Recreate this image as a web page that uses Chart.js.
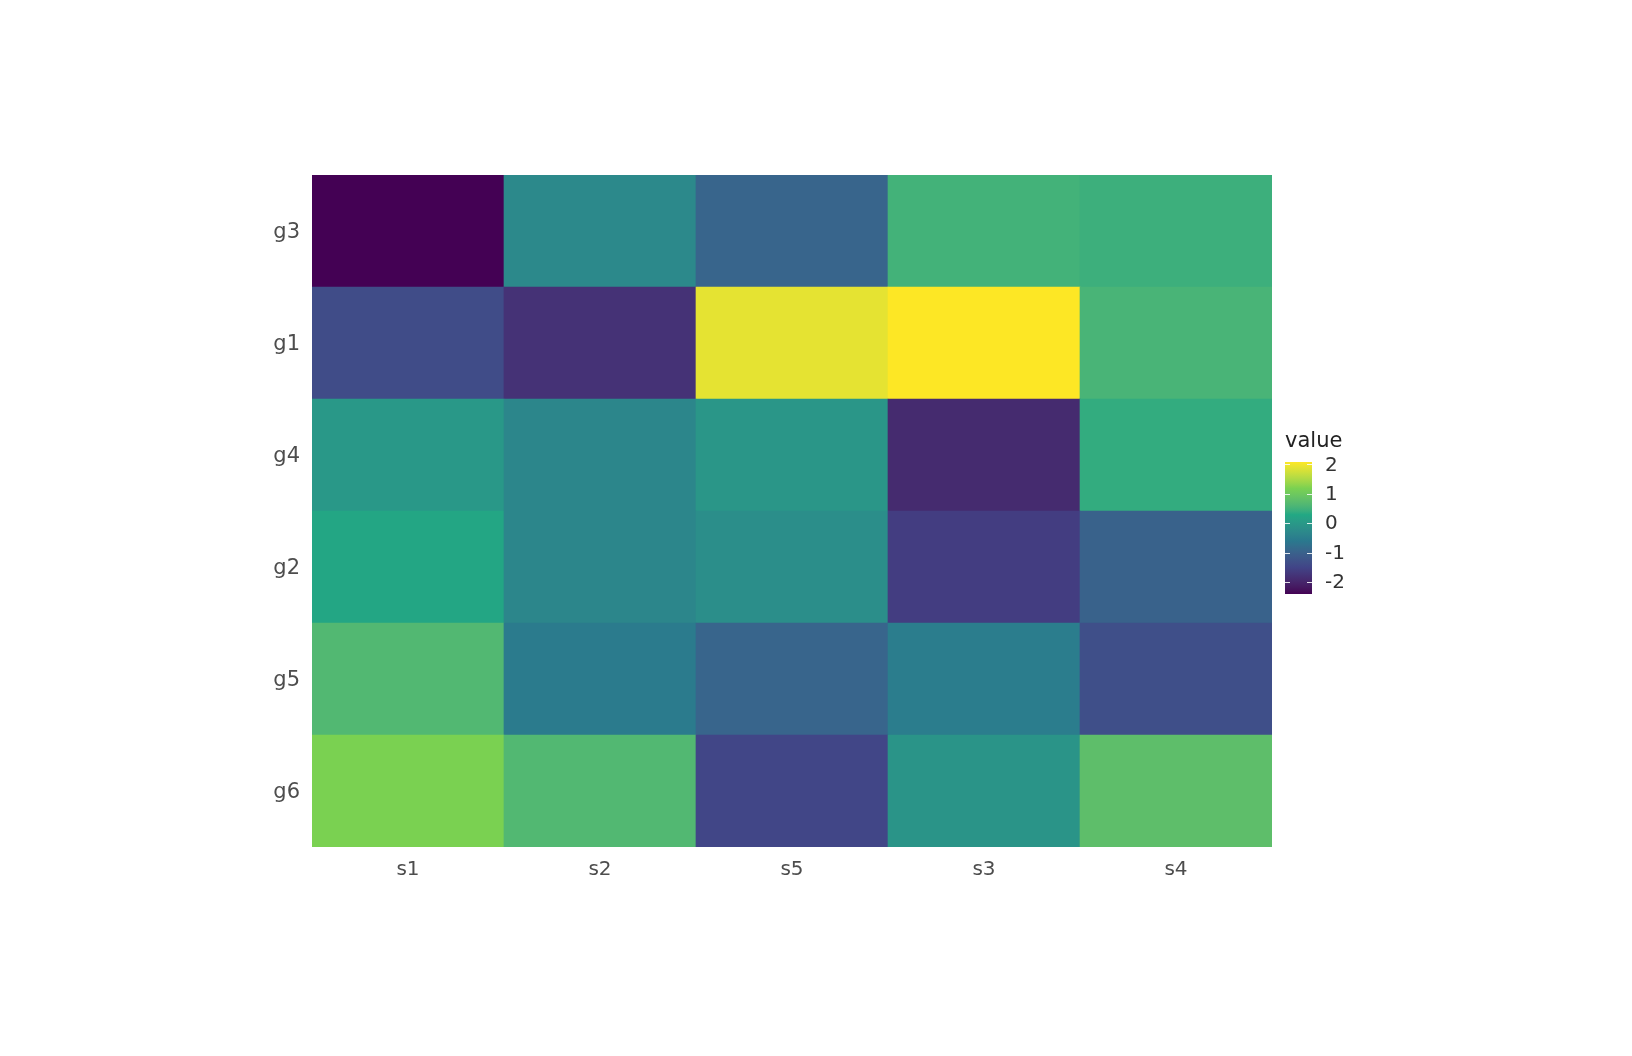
<!DOCTYPE html>
<html>
<head>
<meta charset="utf-8">
<script src="https://cdn.jsdelivr.net/npm/chart.js@4.4.1/dist/chart.umd.min.js"></script>
<style>
  html, body { margin: 0; padding: 0; background: #fff; }
</style>
</head>
<body>
<canvas id="heatChart" width="1632" height="1056"></canvas>
<script>
// columns left to right, rows top to bottom
var samples = ["s1", "s2", "s5", "s3", "s4"];
var genes = ["g3", "g1", "g4", "g2", "g5", "g6"];

// values per row, in the order of samples
var g3 = [-2.41, -0.30, -0.95, 0.50, 0.45];
var g1 = [-1.38, -1.80, 1.90, 2.08, 0.55];
var g4 = [-0.02, -0.35, -0.05, -1.92, 0.38];
var g2 = [0.25, -0.35, -0.20, -1.62, -1.00];
var g5 = [0.65, -0.55, -0.95, -0.52, -1.33];
var g6 = [1.18, 0.65, -1.48, -0.08, 0.78];

var legendTicks = [2, 1, 0, -1, -2];

var rows = { g3: g3, g1: g1, g4: g4, g2: g2, g5: g5, g6: g6 };

var allValues = [].concat(g3, g1, g4, g2, g5, g6);
var vMin = Math.min.apply(null, allValues);
var vMax = Math.max.apply(null, allValues);

// viridis(6), interpolated in Lab like ggplot does
var viridis = ["#440154", "#414487", "#2A788E", "#22A884", "#7AD151", "#FDE725"];

function toLin(c) { c = c / 255; return c <= 0.04045 ? c / 12.92 : Math.pow((c + 0.055) / 1.055, 2.4); }
function toSrgb(c) {
    c = c <= 0.0031308 ? 12.92 * c : 1.055 * Math.pow(c, 1 / 2.4) - 0.055;
    return Math.round(Math.max(0, Math.min(1, c)) * 255);
}
function fLab(t) { return t > 0.008856 ? Math.cbrt(t) : 7.787 * t + 16 / 116; }
function fInv(f) { var f3 = f * f * f; return f3 > 0.008856 ? f3 : (f - 16 / 116) / 7.787; }

function hexToLab(h) {
    var r = toLin(parseInt(h.substr(1, 2), 16));
    var g = toLin(parseInt(h.substr(3, 2), 16));
    var b = toLin(parseInt(h.substr(5, 2), 16));
    var X = (0.4124 * r + 0.3576 * g + 0.1805 * b) / 0.95047;
    var Y = 0.2126 * r + 0.7152 * g + 0.0722 * b;
    var Z = (0.0193 * r + 0.1192 * g + 0.9505 * b) / 1.08883;
    var fx = fLab(X), fy = fLab(Y), fz = fLab(Z);
    return [116 * fy - 16, 500 * (fx - fy), 200 * (fy - fz)];
}

function labToRgb(lab) {
    var fy = (lab[0] + 16) / 116, fx = fy + lab[1] / 500, fz = fy - lab[2] / 200;
    var X = 0.95047 * fInv(fx), Y = fInv(fy), Z = 1.08883 * fInv(fz);
    var r = 3.2406 * X - 1.5372 * Y - 0.4986 * Z;
    var g = -0.9689 * X + 1.8758 * Y + 0.0415 * Z;
    var b = 0.0557 * X - 0.2040 * Y + 1.0570 * Z;
    return "rgb(" + toSrgb(r) + "," + toSrgb(g) + "," + toSrgb(b) + ")";
}

var viridisLab = viridis.map(hexToLab);

function viridisAt(t) {
    t = Math.max(0, Math.min(1, t));
    var pos = t * (viridisLab.length - 1);
    var i = Math.min(Math.floor(pos), viridisLab.length - 2);
    var f = pos - i;
    var a = viridisLab[i], b = viridisLab[i + 1];
    return labToRgb(a.map(function (v, k) { return v + (b[k] - v) * f; }));
}

function colorFor(v) {
    return viridisAt((v - vMin) / (vMax - vMin));
}

// stacked bars: bottom row first
var datasets = genes.slice().reverse().map(function (g) {
    return {
        label: g,
        data: samples.map(function () { return 1; }),
        backgroundColor: rows[g].map(colorFor),
        borderWidth: 0,
        categoryPercentage: 1,
        barPercentage: 1
    };
});

var colorBar = {
    id: "colorBar",
    afterDraw: function (chart) {
        var ctx = chart.ctx;
        var area = chart.chartArea;
        var x0 = area.right + 13, w = 27;
        var mid = (area.top + area.bottom) / 2;
        var top = mid - 49, bottom = top + 132;
        var grad = ctx.createLinearGradient(0, bottom, 0, top);
        for (var i = 0; i <= 40; i++) {
            grad.addColorStop(i / 40, viridisAt(i / 40));
        }
        ctx.save();
        ctx.fillStyle = grad;
        ctx.fillRect(x0, top, w, bottom - top);

        function yOf(v) { return bottom - (v - vMin) / (vMax - vMin) * (bottom - top); }

        ctx.strokeStyle = "rgba(255,255,255,0.85)";
        ctx.lineWidth = 1;
        ctx.font = "20px 'DejaVu Sans'";
        ctx.fillStyle = "#333333";
        ctx.textAlign = "left";
        ctx.textBaseline = "middle";
        legendTicks.forEach(function (t) {
            var y = Math.round(yOf(t)) + 0.5;
            ctx.beginPath();
            ctx.moveTo(x0, y); ctx.lineTo(x0 + 5, y);
            ctx.moveTo(x0 + w - 5, y); ctx.lineTo(x0 + w, y);
            ctx.stroke();
            ctx.fillText(String(t), x0 + 40, yOf(t) + 1);
        });

        ctx.font = "21px 'DejaVu Sans'";
        ctx.fillStyle = "#222222";
        ctx.textBaseline = "alphabetic";
        ctx.fillText("value", x0, top - 15);
        ctx.restore();
    }
};

var ctx = document.getElementById("heatChart").getContext("2d");

var heatChart = new Chart(ctx, {
    type: "bar",
    data: {
        labels: samples,
        datasets: datasets
    },
    options: {
        responsive: false,
        animation: false,
        devicePixelRatio: 1,
        layout: {
            padding: { left: 252, right: 360, top: 175, bottom: 169 }
        },
        plugins: {
            legend: { display: false },
            tooltip: { enabled: false }
        },
        scales: {
            x: {
                stacked: true,
                grid: { display: false, drawTicks: false },
                border: { display: false },
                ticks: {
                    padding: 11,
                    color: "#4d4d4d",
                    font: { family: "DejaVu Sans", size: 20 }
                },
                afterFit: function (scale) { scale.height = 40; }
            },
            y: {
                stacked: true,
                min: 0,
                max: genes.length,
                grid: { display: false, drawTicks: false },
                border: { display: false },
                afterBuildTicks: function (scale) {
                    scale.ticks = genes.map(function (g, i) { return { value: i + 0.5 }; });
                },
                ticks: {
                    padding: 12,
                    labelOffset: 2,
                    color: "#4d4d4d",
                    font: { family: "DejaVu Sans", size: 21 },
                    callback: function (v) { return genes[genes.length - 1 - Math.floor(v)]; }
                },
                afterFit: function (scale) { scale.width = 60; }
            }
        }
    },
    plugins: [colorBar]
});
</script>
</body>
</html>
